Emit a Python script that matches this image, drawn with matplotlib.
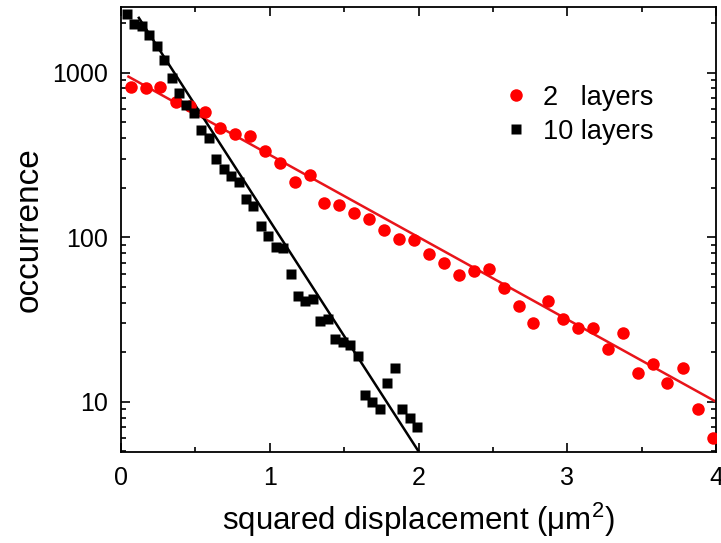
import matplotlib.pyplot as plt
from matplotlib.ticker import MultipleLocator, LogLocator, NullFormatter, FixedLocator

plt.rcParams["font.family"] = ["Liberation Sans", "DejaVu Sans"]

# 2 layers (red circles)
red_x = [0.065, 0.166, 0.264, 0.37, 0.464, 0.567, 0.668, 0.766, 0.869, 0.968,
         1.069, 1.17, 1.27, 1.367, 1.468, 1.568, 1.667, 1.77, 1.869, 1.968,
         2.07, 2.17, 2.27, 2.371, 2.472, 2.573, 2.674, 2.772, 2.873, 2.974,
         3.074, 3.173, 3.274, 3.375, 3.474, 3.574, 3.673, 3.776, 3.877, 3.978]
red_y = [811, 802, 811, 659, 624, 577, 460, 425, 410, 332,
         283, 215, 237, 161, 156, 141, 129, 111, 98, 96,
         79, 69.5, 59, 62, 64, 49, 38, 30, 41, 32,
         28, 28, 21, 26, 15, 17, 13, 16, 9, 6]

# 10 layers (black squares)
black_x = [0.04, 0.09, 0.14, 0.19, 0.24, 0.29, 0.34, 0.39, 0.44, 0.49,
           0.54, 0.59, 0.64, 0.69, 0.74, 0.79, 0.84, 0.89, 0.94, 0.99,
           1.04, 1.09, 1.14, 1.19, 1.24, 1.29, 1.34, 1.39, 1.44, 1.49,
           1.54, 1.59, 1.64, 1.69, 1.74, 1.79, 1.84, 1.89, 1.94, 1.99]
black_y = [2265, 1968, 1913, 1687, 1459, 1183, 932, 752, 636, 568,
           450, 398, 298, 259, 236, 216, 170, 155, 117, 101,
           87, 86, 60, 44, 41, 42, 31, 32, 24, 23,
           22, 19, 11, 10, 9, 13, 16, 9, 8, 7]

# exponential fits (end points)
red_fit_x = [0.05, 4.0]
red_fit_y = [944, 10.0]
black_fit_x = [0.12, 2.0]
black_fit_y = [2148, 5.0]

fig = plt.figure(figsize=(7.21, 5.43), dpi=100)
ax = fig.add_axes([121 / 721, 1 - 452 / 543, 595 / 721, 445 / 543])

ax.plot(red_fit_x, red_fit_y, color="#e8141a", lw=1.8, zorder=2)
ax.plot(black_fit_x, black_fit_y, color="black", lw=1.8, zorder=2)
ax.plot(red_x, red_y, "o", color="#ff0000", ms=9, mec="none", label="2   layers", zorder=3)
ax.plot(black_x, black_y, "s", color="black", ms=7.5, mec="none", label="10 layers", zorder=3)

ax.set_yscale("log")
ax.set_xlim(0, 4)
ax.set_ylim(4.95, 2500)

ax.xaxis.set_major_locator(MultipleLocator(1))
ax.xaxis.set_minor_locator(MultipleLocator(0.5))
ax.yaxis.set_major_locator(FixedLocator([10, 100, 1000]))
ax.yaxis.set_minor_locator(LogLocator(base=10, subs=range(2, 10)))
ax.yaxis.set_minor_formatter(NullFormatter())
ax.set_yticklabels(["10", "100", "1000"])

ax.tick_params(which="both", direction="in", top=True, right=True, width=1.2, labelsize=18)
ax.tick_params(which="major", length=6.5)
ax.tick_params(axis="x", which="major", pad=10)
ax.tick_params(axis="y", which="major", pad=9)
ax.tick_params(which="minor", length=3.5)
for s in ax.spines.values():
    s.set_linewidth(1.3)

ax.set_xlabel("squared displacement (\u03bcm$^{\\mathregular{2}}$)", fontsize=22.5, labelpad=8)
ax.set_ylabel("occurrence", fontsize=24, labelpad=6)

ax.legend(loc="upper left", bbox_to_anchor=(0.6, 0.88), frameon=False, fontsize=19.5,
          handletextpad=0.5, labelspacing=0.3, handlelength=1.0)

fig.savefig("out.png", dpi=100)
